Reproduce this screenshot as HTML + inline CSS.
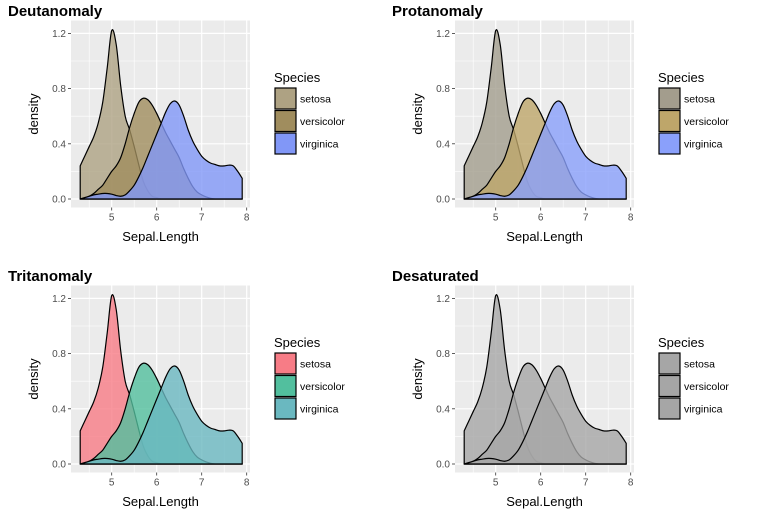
<!DOCTYPE html>
<html><head><meta charset="utf-8">
<style>
body{margin:0;background:#fff;}
svg{display:block;font-family:"Liberation Sans",Arial,sans-serif;}
</style></head>
<body>
<svg id="chart" width="768" height="529" viewBox="0 0 768 529"></svg>
<script>
const xs = [4.3,4.4,4.5,4.6,4.7,4.8,4.9,5.0,5.1,5.2,5.3,5.4,5.5,5.6,5.7,5.8,5.9,6.0,6.1,6.2,6.3,6.4,6.5,6.6,6.7,6.8,6.9,7.0,7.1,7.2,7.3,7.4,7.5,7.6,7.7,7.8,7.9];
const setosa = [.24,.31,.38,.45,.55,.70,.95,1.22,1.12,.82,.60,.50,.38,.25,.13,.06,.02,.01,0,0,0,0,0,0,0,0,0,0,0,0,0,0,0,0,0,0,0];
const versicolor = [0,.005,.02,.04,.07,.10,.15,.20,.24,.30,.40,.52,.62,.70,.73,.72,.68,.62,.55,.48,.42,.36,.30,.22,.15,.09,.05,.03,.015,.005,0,0,0,0,0,0,0];
const virginica = [0,.01,.02,.03,.035,.04,.04,.035,.025,.02,.03,.06,.10,.16,.23,.31,.39,.47,.55,.63,.69,.71,.68,.60,.50,.42,.36,.31,.28,.26,.25,.24,.24,.245,.24,.20,.15];
const species = ["setosa","versicolor","virginica"];
const xTicks = [5,6,7,8];
const yTicks = [0,0.4,0.8,1.2];
const yTickLabels = ["0.0","0.4","0.8","1.2"];
const panelTitles = ["Deutanomaly","Protanomaly","Tritanomaly","Desaturated"];
const palettes = [
  ["#aea283","#a08d5e","#8197f7"],
  ["#a39d8d","#bea66a","#8aa0fb"],
  ["#f77c86","#52bf9e","#6ab8c0"],
  ["#a6a6a6","#a6a6a6","#a6a6a6"]
];
const seriesData = [setosa, versicolor, virginica];
const offsets = [[0,0],[384,0],[0,265],[384,265]];

const svg = document.getElementById('chart');
const NS = "http://www.w3.org/2000/svg";
function mk(tag, attrs, parent){
  const e = document.createElementNS(NS, tag);
  for (const k in attrs) e.setAttribute(k, attrs[k]);
  parent.appendChild(e);
  return e;
}
const PL=71, PR=250, PT=20.5, PB=207.5;
const xScale = v => 111.7 + (v-5)*45;
const yScale = v => 199 - v*138;

function smoothPath(pts){
  let d = `M${pts[0][0].toFixed(2)},${pts[0][1].toFixed(2)}`;
  for (let i=0;i<pts.length-1;i++){
    const p0 = pts[Math.max(0,i-1)], p1 = pts[i], p2 = pts[i+1], p3 = pts[Math.min(pts.length-1,i+2)];
    const c1x = p1[0] + (p2[0]-p0[0])/6, c1y = p1[1] + (p2[1]-p0[1])/6;
    const c2x = p2[0] - (p3[0]-p1[0])/6, c2y = p2[1] - (p3[1]-p1[1])/6;
    d += ` C${c1x.toFixed(2)},${Math.min(c1y,199).toFixed(2)} ${c2x.toFixed(2)},${Math.min(c2y,199).toFixed(2)} ${p2[0].toFixed(2)},${p2[1].toFixed(2)}`;
  }
  return d;
}

offsets.forEach((off, pi) => {
  const g = mk('g', {transform:`translate(${off[0]},${off[1]})`}, svg);
  
  
  const t = mk('text', {x:8, y:16, 'font-size':15, 'font-weight':'bold', fill:'#000'}, g);
  t.textContent = panelTitles[pi];
  
  
  const bg = mk('rect', {x:PL, y:PT, width:PR-PL, height:PB-PT, fill:'#ebebeb'}, g);
  
  
  [4.5,5.5,6.5,7.5].forEach(v => mk('line',{x1:xScale(v),x2:xScale(v),y1:PT,y2:PB,stroke:'#fff','stroke-width':0.6},g));
  [0.2,0.6,1.0].forEach(v => mk('line',{x1:PL,x2:PR,y1:yScale(v),y2:yScale(v),stroke:'#fff','stroke-width':0.6},g));
  xTicks.forEach(v => mk('line',{x1:xScale(v),x2:xScale(v),y1:PT,y2:PB,stroke:'#fff','stroke-width':1.2},g));
  yTicks.forEach(v => mk('line',{x1:PL,x2:PR,y1:yScale(v),y2:yScale(v),stroke:'#fff','stroke-width':1.2},g));
  seriesData.forEach((ys, si) => {
    const pts = xs.map((x,i) => [xScale(x), yScale(ys[i])]);
    let d = `M${xScale(xs[0])},${yScale(0)} L` + smoothPath(pts).slice(1);
    d += ` L${xScale(xs[xs.length-1])},${yScale(0)} Z`;
    const p = mk('path', {d, fill:palettes[pi][si], 'fill-opacity':0.8, stroke:'#000', 'stroke-width':1.2, 'stroke-linejoin':'round'}, g);
    
    
  });
  xTicks.forEach(v => {
    mk('line',{x1:xScale(v),x2:xScale(v),y1:PB,y2:PB+3,stroke:'#333','stroke-width':0.8},g);
    const tl = mk('text',{x:xScale(v),y:PB+13,'font-size':10,fill:'#4d4d4d','text-anchor':'middle'},g);
    tl.textContent = v;
    
    
  });
  yTicks.forEach((v,i) => {
    mk('line',{x1:PL-3,x2:PL,y1:yScale(v),y2:yScale(v),stroke:'#333','stroke-width':0.8},g);
    const tl = mk('text',{x:PL-5,y:yScale(v)+3.5,'font-size':10,fill:'#4d4d4d','text-anchor':'end'},g);
    tl.textContent = yTickLabels[i];
    
    
  });
  const xt = mk('text',{x:(PL+PR)/2,y:241,'font-size':13,fill:'#000','text-anchor':'middle'},g);
  xt.textContent = 'Sepal.Length';
  
  
  const yt = mk('text',{x:0,y:0,'font-size':13,fill:'#000','text-anchor':'middle',transform:`translate(38,${(PT+PB)/2}) rotate(-90)`},g);
  yt.textContent = 'density';
  
  
  const lt = mk('text',{x:274,y:82,'font-size':13,fill:'#000'},g);
  lt.textContent = 'Species';
  
  
  species.forEach((s, si) => {
    const y0 = 88 + si*22.5;
    const r = mk('rect',{x:275,y:y0,width:21,height:21,fill:palettes[pi][si],stroke:'#000','stroke-width':1.2},g);
    
    
    const lbl = mk('text',{x:300,y:y0+14.5,'font-size':10.5,fill:'#000'},g);
    lbl.textContent = s;
    
    
  });
});
</script>
</body></html>
